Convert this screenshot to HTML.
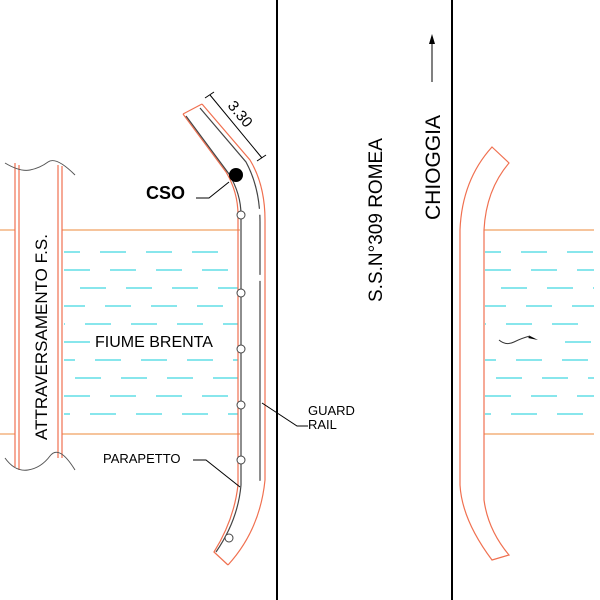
<!DOCTYPE html>
<html><head><style>body{margin:0;background:#fff}svg{display:block}</style></head><body>
<svg width="600" height="600" viewBox="0 0 600 600" xmlns="http://www.w3.org/2000/svg" font-family="Liberation Sans, sans-serif">
<rect width="600" height="600" fill="#fff"/>
<g stroke="#f0a060" stroke-width="1.2">
<line x1="0" y1="230" x2="15" y2="230"/><line x1="62" y1="230" x2="240" y2="230"/>
<line x1="0" y1="434" x2="15" y2="434"/><line x1="62" y1="434" x2="240" y2="434"/>
<line x1="484" y1="230" x2="594" y2="230"/><line x1="484" y1="434" x2="594" y2="434"/>
</g>
<g stroke="#40d8e0" stroke-width="1.2" stroke-dasharray="26,20">
<line x1="64" y1="252" x2="238" y2="252" stroke-dashoffset="10"/>
<line x1="64" y1="270" x2="238" y2="270"/>
<line x1="64" y1="288" x2="238" y2="288" stroke-dashoffset="30"/>
<line x1="64" y1="306" x2="238" y2="306" stroke-dashoffset="5"/>
<line x1="64" y1="324" x2="238" y2="324" stroke-dashoffset="25"/>
<line x1="64" y1="342" x2="90" y2="342"/>
<line x1="64" y1="360" x2="238" y2="360" stroke-dashoffset="15"/>
<line x1="64" y1="378" x2="238" y2="378" stroke-dashoffset="35"/>
<line x1="64" y1="396" x2="238" y2="396"/>
<line x1="64" y1="414" x2="238" y2="414" stroke-dashoffset="20"/>
<line x1="485" y1="252" x2="594" y2="252" stroke-dashoffset="10"/>
<line x1="485" y1="270" x2="594" y2="270"/>
<line x1="485" y1="288" x2="594" y2="288" stroke-dashoffset="30"/>
<line x1="485" y1="306" x2="594" y2="306" stroke-dashoffset="5"/>
<line x1="485" y1="324" x2="594" y2="324" stroke-dashoffset="25"/>
<line x1="565" y1="342" x2="594" y2="342"/>
<line x1="485" y1="360" x2="594" y2="360" stroke-dashoffset="15"/>
<line x1="485" y1="378" x2="594" y2="378" stroke-dashoffset="35"/>
<line x1="485" y1="396" x2="594" y2="396"/>
<line x1="485" y1="414" x2="594" y2="414" stroke-dashoffset="20"/>
</g>
<g stroke="#f07050" stroke-width="1.2">
<line x1="15" y1="163" x2="15" y2="467"/><line x1="19" y1="165" x2="19" y2="470"/>
<line x1="58" y1="165" x2="58" y2="458"/><line x1="62" y1="166" x2="62" y2="458"/>
</g>
<g stroke="#555" fill="none" stroke-width="1">
<path d="M5,163 Q20,172 30,170 T48,162 T75,175"/>
<path d="M5,458 Q15,472 28,470 T50,456 T75,470"/>
</g>
<line x1="277" y1="0" x2="277" y2="600" stroke="#000" stroke-width="2"/>
<line x1="452" y1="0" x2="452" y2="600" stroke="#000" stroke-width="2"/>
<g fill="none" stroke="#f07050" stroke-width="1.2">
<path d="M183,114 L202,104"/>
<path d="M183,114 L226,172 Q238,192 238,215 L238,485 Q234,520 214,552 L228,565"/>
<path d="M202,104 L250,160 Q265,185 265,220 L265,480 Q260,530 228,565"/>
</g>
<g fill="none" stroke="#444" stroke-width="1.2">
<path d="M186,116 L229,174 Q241,194 241,215 L241,485 Q238,520 216,552"/>
<path d="M200,108 L246,162 Q260,188 260,222 L260,480 Q256,528 230,560" stroke-dasharray="120,6,60,6,200"/>
</g>
<g fill="#fff" stroke="#444" stroke-width="1">
<circle cx="241" cy="215" r="4"/><circle cx="241" cy="293" r="4"/><circle cx="241" cy="349" r="4"/>
<circle cx="241" cy="405" r="4"/><circle cx="241" cy="460" r="4"/><circle cx="229" cy="538" r="4"/>
</g>
<circle cx="236" cy="175" r="7" fill="#000"/>
<g stroke="#000" stroke-width="1">
<line x1="210" y1="95" x2="262" y2="158"/>
<line x1="205" y1="98" x2="214" y2="92"/><line x1="257" y1="161" x2="266" y2="155"/>
</g>
<text x="0" y="0" font-size="15" transform="translate(227,106) rotate(50)">3.30</text>
<g stroke="#000" fill="none" stroke-width="1">
<path d="M196,198 L209,198 L229,182"/>
<path d="M193,460 L206,460 L240,487"/>
<path d="M308,426 L297,426 L262,403"/>
</g>
<text x="146" y="199" font-size="18" font-weight="bold">CSO</text>
<text x="95" y="347" font-size="16">FIUME BRENTA</text>
<text x="103" y="463" font-size="13">PARAPETTO</text>
<text x="308" y="415" font-size="13">GUARD</text>
<text x="308" y="429" font-size="13">RAIL</text>
<text font-size="17" transform="translate(47,440) rotate(-90)">ATTRAVERSAMENTO F.S.</text>
<text font-size="19" transform="translate(382,302) rotate(-90)">S.S.N°309 ROMEA</text>
<text font-size="21" transform="translate(440,220) rotate(-90)">CHIOGGIA</text>
<line x1="432" y1="82" x2="432" y2="40" stroke="#000" stroke-width="1"/>
<path d="M432,34 L429,44 L435,44 Z" fill="#000"/>
<path d="M492,147 L509,163 Q486,190 484,230 L484,500 Q488,530 509,555 L492,560 Q462,520 460,485 L460,230 Q462,180 492,147 Z" fill="none" stroke="#f07050" stroke-width="1.2"/>
<path d="M499,340 Q506,346 514,342 T530,336" fill="none" stroke="#333" stroke-width="1"/>
<path d="M530,336 L538,340 L528,338 Z" fill="#000"/>
</svg>
</body></html>
